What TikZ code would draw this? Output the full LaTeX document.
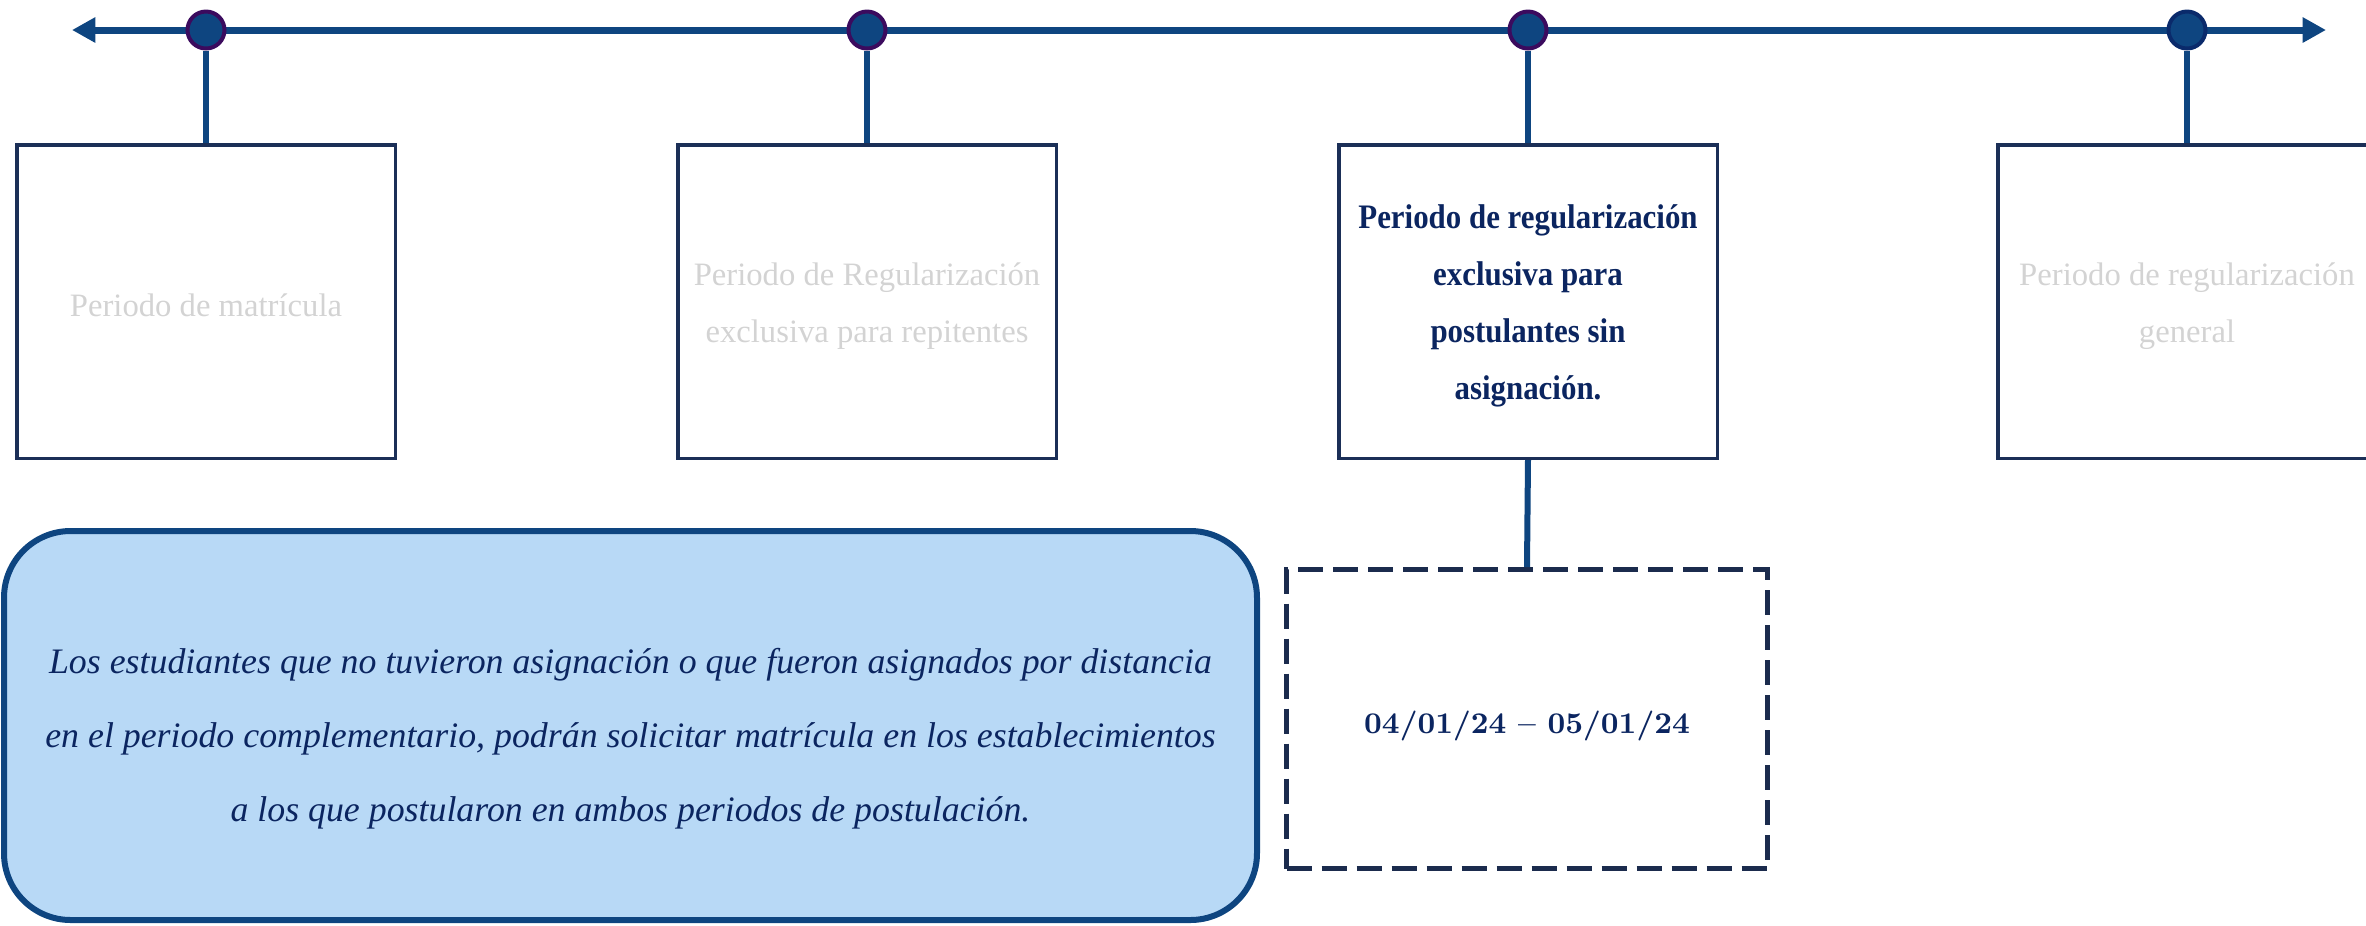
\documentclass[tikz,border=0pt]{standalone}
\usepackage{fontspec}
\usetikzlibrary{arrows.meta}
\newfontfamily\tnr{Liberation Serif}
\newfontfamily\tnrc{Liberation Serif}[FakeStretch=0.9]
\definecolor{tlblue}{HTML}{0E4580}
\definecolor{dotpurple}{HTML}{3B0B5E}
\definecolor{dotnavy}{HTML}{0A2A6B}
\definecolor{boxnavy}{HTML}{1B2F57}
\definecolor{txtnavy}{HTML}{0B2560}
\definecolor{greytxt}{HTML}{D3D3D3}
\definecolor{notefill}{HTML}{B8D9F6}
\definecolor{dashnavy}{HTML}{1B2B4D}
\tikzset{
  timeline/.style={draw=tlblue, line width=2.1pt},
  dot/.style={circle, fill=tlblue, draw=dotpurple, line width=1.2pt, minimum size=11.1pt, inner sep=0pt},
  stem/.style={draw=tlblue, line width=1.8pt},
  periodbox/.style={rectangle, draw=boxnavy, line width=1.05pt, minimum width=113.55pt, minimum height=94.05pt, inner sep=0pt},
  greylabel/.style={align=center, inner sep=0pt, text=greytxt, font=\tnr\fontsize{9.8pt}{17.1pt}\selectfont},
  boldlabel/.style={align=center, inner sep=0pt, text=txtnavy, font=\tnrc\bfseries\fontsize{10.3pt}{17.1pt}\selectfont},
  notebox/.style={rectangle, rounded corners=20pt, draw=tlblue, fill=notefill, line width=1.8pt, minimum width=375.9pt, minimum height=116.7pt, inner sep=0pt},
  notetext/.style={align=center, inner sep=0pt, text=txtnavy, font=\tnr\itshape\fontsize{10.75pt}{22.2pt}\selectfont},
  datebox/.style={rectangle, draw=dashnavy, line width=1.5pt, dash pattern=on 7.5pt off 3pt, minimum width=144.3pt, minimum height=89.7pt, inner sep=0pt},
  datetext/.style={inner sep=0pt, text=txtnavy, font=\bfseries\fontsize{9pt}{11pt}\selectfont}
}
\begin{document}
\begin{tikzpicture}[x=0.3pt, y=-0.3pt]
\useasboundingbox (0,0) rectangle (2366,925);
\clip (0,0) rectangle (2366,925);
% timeline
\coordinate (tl) at (72,30);
\coordinate (tr) at (2326,30);
\draw[timeline, {Triangle[length=7pt, width=7.2pt]}-{Triangle[length=7pt, width=7.2pt]}] (tl) -- (tr);
% dots
\node[dot] (c1) at (206,30) {};
\node[dot] (c2) at (867,30) {};
\node[dot] (c3) at (1528,30) {};
\node[dot, draw=dotnavy] (c4) at (2187,30) {};
% period boxes
\node[periodbox] (b1) at (206,301.5) {};
\node[periodbox] (b2) at (867,301.5) {};
\node[periodbox] (b3) at (1528,301.5) {};
\node[periodbox] (b4) at (2187,301.5) {};
\node[greylabel] (t1) at ([yshift=-1.2pt]b1.center) {Periodo de matrícula};
\node[greylabel] (t2) at ([yshift=-1.4pt]b2.center) {Periodo de Regularización\\exclusiva para repitentes};
\node[boldlabel] (t3) at ([yshift=-1.4pt]b3.center) {Periodo de regularización\\exclusiva para\\postulantes sin\\asignación.};
\node[greylabel] (t4) at ([yshift=-1.4pt]b4.center) {Periodo de regularización\\general};
% stems
\draw[stem] (c1.south) -- (b1.north);
\draw[stem] (c2.south) -- (b2.north);
\draw[stem] (c3.south) -- (b3.north);
\draw[stem] (c4.south) -- (b4.north);
% note
\node[notebox] (note) at (630.5,725.5) {};
\node[notetext] (notetxt) at ([yshift=-4pt]note.center) {Los estudiantes que no tuvieron asignación o que fueron asignados por distancia\\en el periodo complementario, podrán solicitar matrícula en los establecimientos\\a los que postularon en ambos periodos de postulación.};
% date box
\node[datebox] (date) at (1527,719) {};
\node[datetext] (datetxt) at ([yshift=-2.2pt]date.center) {04/01/24 -- 05/01/24};
\draw[stem] (b3.south) -- (date.north);
\end{tikzpicture}
\end{document}
